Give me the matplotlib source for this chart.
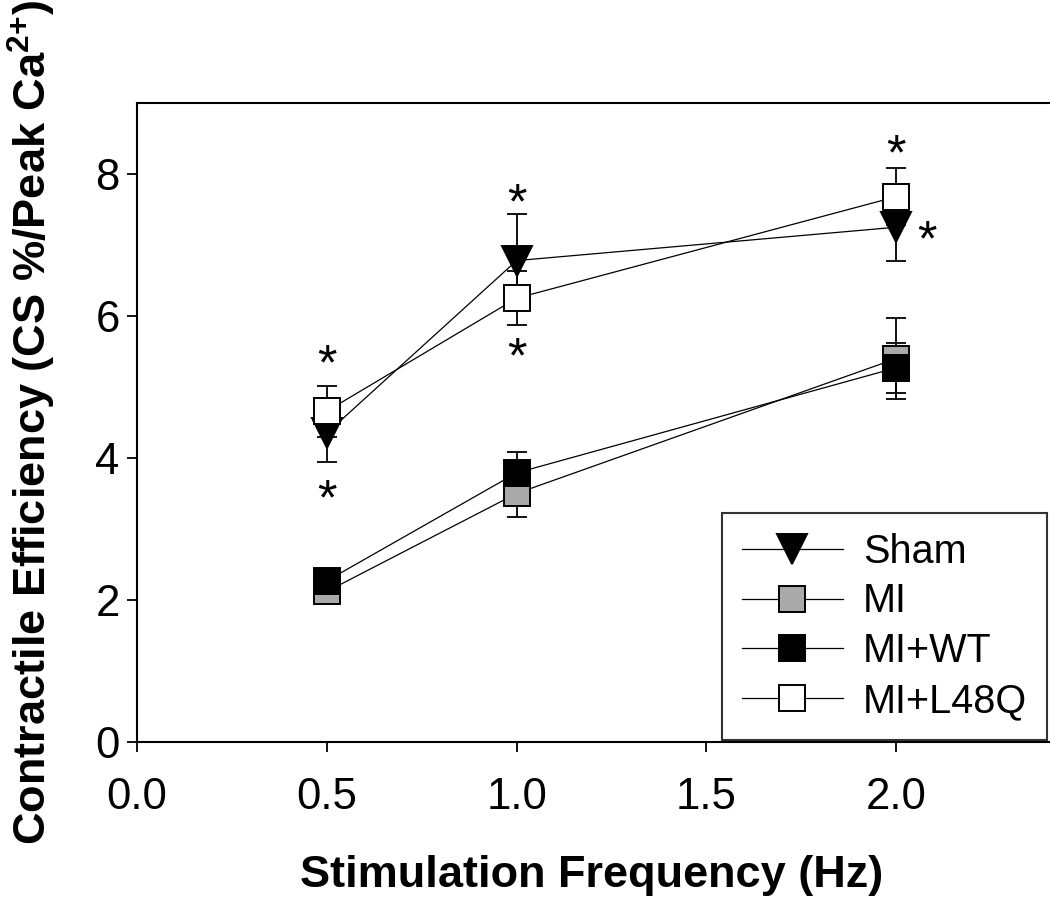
import matplotlib
matplotlib.use("Agg")
import matplotlib.pyplot as plt
import numpy as np

plt.rcParams['font.family'] = ['Liberation Sans', 'DejaVu Sans']
plt.rcParams['mathtext.fontset'] = 'custom'
plt.rcParams['mathtext.rm'] = 'Liberation Sans'
plt.rcParams['mathtext.bf'] = 'Liberation Sans:bold'

# stimulation frequency (Hz)
freq = [0.5, 1.0, 2.0]

# contractile efficiency, mean and SEM per group
sham = [4.35, 6.78, 7.25]
sham_err = [0.40, 0.66, 0.48]
mi = [2.12, 3.50, 5.40]
mi_err = [0.08, 0.33, 0.57]
mi_wt = [2.27, 3.79, 5.27]
mi_wt_err = [0.08, 0.29, 0.35]
mi_l48q = [4.66, 6.25, 7.68]
mi_l48q_err = [0.36, 0.38, 0.40]

# significance marks
star_x = [0.5, 0.5, 1.0, 1.0, 2.0, 2.08]
star_y = [5.42, 3.52, 7.70, 5.52, 8.38, 7.17]

xticks = [0.0, 0.5, 1.0, 1.5, 2.0]
yticks = [0, 2, 4, 6, 8]

fig = plt.figure(figsize=(10.5, 9), dpi=100)
ax = fig.add_axes([0.1305, 0.1756, 0.8695, 0.71])

series = [
    ("Sham", sham, sham_err, "v", "black"),
    ("MI", mi, mi_err, "s", "#a9a9a9"),
    ("MI+WT", mi_wt, mi_wt_err, "s", "black"),
    ("MI+L48Q", mi_l48q, mi_l48q_err, "s", "white"),
]

for label, y, e, m, fc in series:
    ms = 22 if m == "v" else 19
    ax.errorbar(freq, y, yerr=e, fmt="none", ecolor="black", elinewidth=1.3,
                capsize=7, capthick=1.3, zorder=2)
    ax.plot(freq, y, color="black", lw=0.9, marker=m, markersize=ms,
            markerfacecolor=fc, markeredgecolor="black", markeredgewidth=1.4,
            label=label, zorder=3)

for sx, sy in zip(star_x, star_y):
    ax.annotate("*", (sx, sy), xytext=(0, -7), textcoords="offset points",
                fontsize=36, ha="center", va="center", zorder=4)

ax.set_xlim(0, 2.405)
ax.set_ylim(0, 9)
ax.set_xticks(xticks)
ax.set_xticklabels([f"{t:.1f}" for t in xticks])
ax.set_yticks(yticks)
ax.tick_params(direction="out", length=7.5, width=1.3, labelsize=31.5)
ax.tick_params(axis="x", pad=18)
ax.tick_params(axis="y", pad=5)
ax.spines["right"].set_visible(False)
for s in ["left", "bottom", "top"]:
    ax.spines[s].set_linewidth(1.5)

fig.text(0.563, 0.027, "Stimulation Frequency (Hz)", fontsize=32.5,
         fontweight="bold", ha="center", va="center")
fig.text(0.030, 0.530, "Contractile Efficiency (CS %/Peak Ca$^{\\mathbf{2{+}}}$)",
         rotation=90, fontsize=32.5, fontweight="bold", ha="center", va="center")

leg = ax.legend(loc="lower right", bbox_to_anchor=(0.9985, 0.0), fontsize=28.5,
                frameon=True, fancybox=False, edgecolor="black", handlelength=2.55,
                borderpad=0.5, labelspacing=0.3, handletextpad=0.5,
                borderaxespad=0.05)
leg.get_frame().set_linewidth(1.5)

fig.savefig("out.png", dpi=100)
